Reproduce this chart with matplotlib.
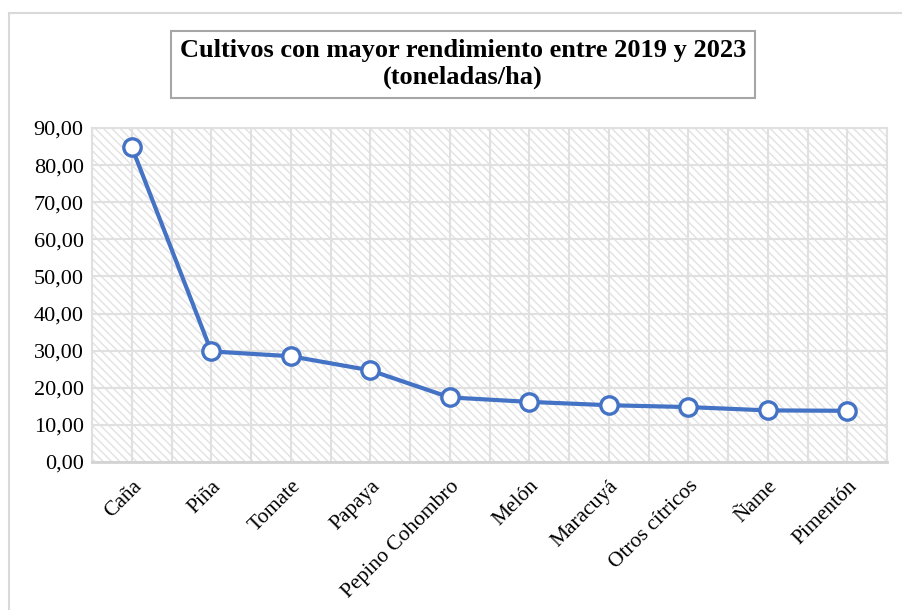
import matplotlib.pyplot as plt
from matplotlib.patches import Rectangle
from matplotlib.ticker import FuncFormatter
from matplotlib.transforms import ScaledTranslation

cultivos = ['Caña', 'Piña', 'Tomate', 'Papaya', 'Pepino Cohombro', 'Melón',
            'Maracuyá', 'Otros cítricos', 'Ñame', 'Pimentón']
rendimiento = [84.9, 29.8, 28.5, 24.7, 17.4, 16.2, 15.3, 14.8, 13.9, 13.8]

plt.rcParams['font.family'] = ['Liberation Serif', 'DejaVu Serif']
plt.rcParams['hatch.color'] = '#e2e2e2'
plt.rcParams['hatch.linewidth'] = 1.0

fig = plt.figure(figsize=(9.02, 6.1), dpi=100)
# outer chart border
fig.patches.append(Rectangle((9 / 902, -0.01), 1.0, 1 - 13 / 610 + 0.01,
                             transform=fig.transFigure, fill=False,
                             edgecolor='#d9d9d9', linewidth=1.5))

ax = fig.add_axes([92 / 902, 1 - 462 / 610, 795 / 902, 334 / 610])
ax.add_patch(Rectangle((0, 0), 1, 1, transform=ax.transAxes, facecolor='white',
                       hatch='\\\\\\\\', edgecolor='#e2e2e2', linewidth=0, zorder=0))

x = list(range(len(cultivos)))
ax.plot(x, rendimiento, color='#4472C4', linewidth=3, marker='o', markersize=12.5,
        markerfacecolor='white', markeredgecolor='#4472C4', markeredgewidth=2.4,
        zorder=5)

ax.set_xlim(-0.5, len(cultivos) - 0.5)
ax.set_ylim(0, 90)
ax.set_yticks(range(0, 91, 10))
ax.yaxis.set_major_formatter(FuncFormatter(lambda v, p: f'{v:.2f}'.replace('.', ',')))
ax.set_xticks(x)
ax.set_xticks([i - 0.5 for i in range(len(cultivos) + 1)], minor=True)
ax.set_xticklabels(cultivos, rotation=45, ha='right', rotation_mode='anchor', fontsize=15.5)
ax.tick_params(axis='y', labelsize=16, length=0, pad=6)
ax.tick_params(axis='x', which='both', length=0, pad=9)
shift = ScaledTranslation(7 / 100, -9 / 100, fig.dpi_scale_trans)
for lbl in ax.get_xticklabels():
    lbl.set_va('center')
    lbl.set_transform(lbl.get_transform() + shift)

ax.grid(True, which='major', color='#e0e0e0', linewidth=1.5, zorder=1)
ax.grid(True, which='minor', axis='x', color='#e0e0e0', linewidth=1.5, zorder=1)
ax.set_axisbelow(True)
for s in ax.spines.values():
    s.set_color('#e0e0e0')
    s.set_linewidth(1.5)
ax.spines['bottom'].set_color('#d3d3d3')
ax.spines['bottom'].set_linewidth(2)

fig.text(0.513, 0.895, 'Cultivos con mayor rendimiento entre 2019 y 2023\n(toneladas/ha)',
         ha='center', va='center', fontsize=19, fontweight='bold', linespacing=1.2,
         bbox=dict(boxstyle='square,pad=0.33', facecolor='white', edgecolor='#a6a6a6',
                   linewidth=1.5))

fig.savefig('out.png', dpi=100)
